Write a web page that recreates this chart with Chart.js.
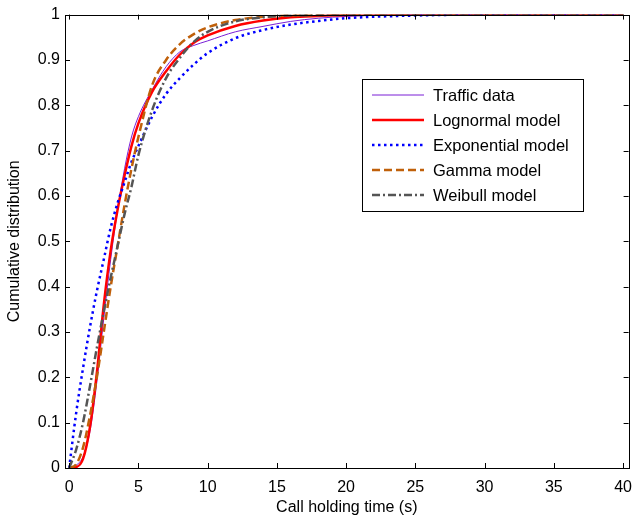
<!DOCTYPE html>
<html>
<head>
<meta charset="utf-8">
<title>Call holding time CDF</title>
<script src="https://cdn.jsdelivr.net/npm/chart.js@4/dist/chart.umd.min.js"></script>
<style>
  html, body { margin: 0; padding: 0; background: #fff; }
  #wrap { width: 642px; height: 519px; }
</style>
</head>
<body>
<div id="wrap"><canvas id="cdf-chart" width="642" height="519"></canvas></div>
<script>
// values
const holdTime = [0, 0.5, 1, 1.5, 2, 2.5, 3, 3.5, 4, 4.5, 5, 6, 7, 8, 9, 10, 12, 14, 16, 18, 20, 25, 30, 40];
const trafficData = [0, 0.006, 0.025, 0.08, 0.19, 0.33, 0.46, 0.57, 0.66, 0.73, 0.775, 0.835, 0.885, 0.918, 0.932, 0.942, 0.962, 0.974, 0.985, 0.992, 0.996, 1, 1, 1];
const lognormalModel = [0, 0.002, 0.02, 0.09, 0.21, 0.36, 0.48, 0.57, 0.645, 0.71, 0.76, 0.83, 0.875, 0.912, 0.938, 0.954, 0.975, 0.987, 0.994, 0.997, 0.999, 1, 1, 1];
const exponentialModel = [0, 0.12, 0.22, 0.31, 0.39, 0.46, 0.53, 0.585, 0.63, 0.675, 0.71, 0.775, 0.825, 0.86, 0.89, 0.915, 0.948, 0.966, 0.978, 0.986, 0.992, 0.998, 1, 1];
const gammaModel = [0, 0.008, 0.045, 0.115, 0.2, 0.3, 0.4, 0.49, 0.58, 0.66, 0.73, 0.845, 0.9, 0.935, 0.957, 0.972, 0.988, 0.995, 0.998, 0.999, 1, 1, 1, 1];
const weibullModel = [0, 0.04, 0.1, 0.18, 0.265, 0.345, 0.42, 0.49, 0.56, 0.62, 0.69, 0.79, 0.86, 0.905, 0.94, 0.962, 0.985, 0.994, 0.998, 0.999, 1, 1, 1, 1];

const xTicks = [0, 5, 10, 15, 20, 25, 30, 35, 40];
const yTicks = [0, 0.1, 0.2, 0.3, 0.4, 0.5, 0.6, 0.7, 0.8, 0.9, 1];

const FONT = "'Liberation Sans', Arial, sans-serif";

function pts(ys) {
  return holdTime.map((t, i) => ({ x: t, y: ys[i] }));
}

// box + inward ticks, matlab style
const boxPlugin = {
  id: 'box',
  afterDatasetsDraw(chart) {
    const { ctx, chartArea: a, scales } = chart;
    ctx.save();
    ctx.strokeStyle = '#000';
    ctx.lineWidth = 1;
    ctx.beginPath();
    scales.x.ticks.forEach(t => {
      const px = Math.round(scales.x.getPixelForValue(t.value)) + 0.5;
      ctx.moveTo(px, a.bottom); ctx.lineTo(px, a.bottom - 5);
      ctx.moveTo(px, a.top); ctx.lineTo(px, a.top + 5);
    });
    scales.y.ticks.forEach(t => {
      const py = Math.round(scales.y.getPixelForValue(t.value)) + 0.5;
      ctx.moveTo(a.left, py); ctx.lineTo(a.left + 5, py);
      ctx.moveTo(a.right, py); ctx.lineTo(a.right - 5, py);
    });
    ctx.stroke();
    ctx.strokeRect(Math.round(a.left) + 0.5, Math.round(a.top) + 0.5,
      Math.round(a.right - a.left), Math.round(a.bottom - a.top));
    ctx.restore();
  }
};

// legend box inside the plot
const legendPlugin = {
  id: 'insideLegend',
  afterDraw(chart) {
    const ctx = chart.ctx;
    const x0 = 362, y0 = 79, w = 221, h = 132;
    ctx.save();
    ctx.fillStyle = '#fff';
    ctx.fillRect(x0, y0, w, h);
    ctx.strokeStyle = '#000';
    ctx.lineWidth = 1;
    ctx.strokeRect(x0 + 0.5, y0 + 0.5, w, h);
    ctx.font = '16.5px ' + FONT;
    ctx.textBaseline = 'middle';
    ctx.textAlign = 'left';
    chart.data.datasets.forEach((ds, i) => {
      const y = 95 + i * 25;
      ctx.strokeStyle = ds.borderColor;
      ctx.lineWidth = ds.borderWidth;
      ctx.setLineDash(ds.borderDash || []);
      ctx.beginPath();
      ctx.moveTo(372, y);
      ctx.lineTo(424, y);
      ctx.stroke();
      ctx.setLineDash([]);
      ctx.fillStyle = '#000';
      ctx.fillText(ds.label, 433, y + 1);
    });
    ctx.restore();
  }
};

new Chart(document.getElementById('cdf-chart'), {
  type: 'line',
  data: {
    datasets: [
      { label: 'Traffic data', data: pts(trafficData), borderColor: '#7a1fd6', borderWidth: 1, order: 5 },
      { label: 'Lognormal model', data: pts(lognormalModel), borderColor: '#ff0000', borderWidth: 2.5, order: 4 },
      { label: 'Exponential model', data: pts(exponentialModel), borderColor: '#0000ff', borderWidth: 2.5, borderDash: [2.5, 3.5], order: 3 },
      { label: 'Gamma model', data: pts(gammaModel), borderColor: '#c0600a', borderWidth: 2.5, borderDash: [8, 4], order: 2 },
      { label: 'Weibull model', data: pts(weibullModel), borderColor: '#555555', borderWidth: 2.5, borderDash: [8, 3, 2, 3], order: 1 }
    ]
  },
  options: {
    responsive: false,
    animation: false,
    elements: {
      point: { radius: 0 },
      line: { cubicInterpolationMode: 'monotone', fill: false }
    },
    layout: { padding: { top: 13, right: 2, left: 0, bottom: 0 } },
    plugins: {
      legend: { display: false },
      tooltip: { enabled: false }
    },
    scales: {
      x: {
        type: 'linear',
        min: -0.3,
        max: 40.4,
        afterBuildTicks: s => { s.ticks = xTicks.map(v => ({ value: v })); },
        afterFit: s => { s.height = 51; },
        grid: { display: false, drawTicks: false },
        border: { display: false },
        ticks: { color: '#000', font: { family: FONT, size: 16 }, padding: 10, maxRotation: 0, callback: v => String(v) },
        title: { display: true, text: 'Call holding time (s)', color: '#000', font: { family: FONT, size: 16 }, padding: { top: 0, bottom: 2 } }
      },
      y: {
        min: 0,
        max: 1,
        afterBuildTicks: s => { s.ticks = yTicks.map(v => ({ value: v })); },
        afterFit: s => { s.width = 65; },
        grid: { display: false, drawTicks: false },
        border: { display: false },
        ticks: { color: '#000', font: { family: FONT, size: 16 }, padding: 5, callback: v => String(v) },
        title: { display: true, text: 'Cumulative distribution', color: '#000', font: { family: FONT, size: 16 }, padding: { top: 5, bottom: 0 } }
      }
    }
  },
  plugins: [boxPlugin, legendPlugin]
});
</script>
</body>
</html>
